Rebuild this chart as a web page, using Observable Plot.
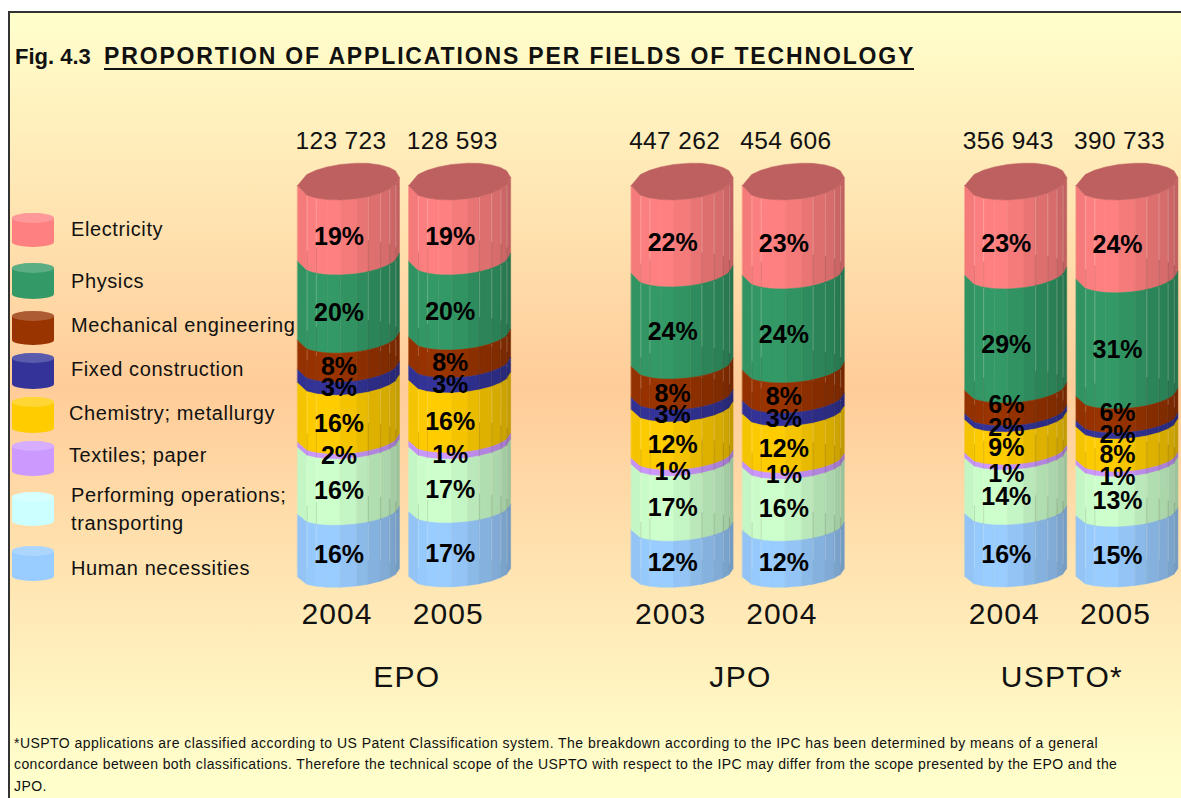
<!DOCTYPE html>
<html><head><meta charset="utf-8">
<script src="https://cdn.jsdelivr.net/npm/d3@7"></script>
<script src="https://cdn.jsdelivr.net/npm/@observablehq/plot@0.6"></script>
<style>
html,body{margin:0;padding:0;background:#fff;overflow:hidden}
#stage{position:relative;width:1181px;height:798px;overflow:hidden;font-family:"Liberation Sans",Arial,sans-serif;color:#111}
#frame{position:absolute;left:8px;top:11px;width:1190px;height:800px;border:2px solid #333;box-sizing:border-box;
 background:linear-gradient(to bottom,#ffffcc 0%,#ffcc99 47%,#ffffcc 96%)}
#stage svg{position:absolute;left:0;top:0;background:transparent}
.t{position:absolute;white-space:nowrap}
.lg{font-size:20px;letter-spacing:.6px;transform:translateY(-50%)}
.sw{position:absolute;left:12px;width:42px;border-radius:21px/5px}
.sw i{position:absolute;left:0;top:0;right:0;height:10px;border-radius:50%;background:rgba(255,255,255,.2)}
.total{letter-spacing:.35px}
.year{letter-spacing:1.1px}
.group{letter-spacing:1.3px}
</style></head><body><div id="stage"><div id="frame"></div></div>
<script>
// Data
const offices = ["EPO","JPO","USPTO*"];
const years = ["2004","2005","2003","2004","2004","2005"];
const totals = ["123 723","128 593","447 262","454 606","356 943","390 733"];
const slots = [0,1,3,4,6,7];
const groupSlots = [0.52,3.52,6.41];
const fields = ["Electricity","Physics","Mechanical engineering","Fixed construction","Chemistry; metallurgy","Textiles; paper","Performing operations; transporting","Human necessities"];
const colors = ["#FF8080","#339966","#993300","#333399","#FFCC00","#CC99FF","#CCFFCC","#99CCFF"];
const legendColors = ["#FF8080","#339966","#993300","#333399","#FFCC00","#CC99FF","#CCFFFF","#99CCFF"];
// drawn band shares, per cylinder
const electricity = [19.4,19.4,22.5,23.0,23.0,24.0];
const physics     = [20.2,19.4,23.8,24.3,29.5,30.0];
const mechanical  = [7.5,7.2,8.0,7.8,5.9,6.2];
const fixedC      = [3.4,3.9,3.1,3.4,1.6,1.6];
const chemistry   = [15.2,15.5,12.4,12.1,8.5,8.5];
const textiles    = [1.3,1.6,1.6,1.6,1.3,1.3];
const performing  = [17.1,16.5,16.8,16.0,14.2,12.9];
const human       = [16.0,16.5,11.9,11.9,16.0,15.5];
const shares = [electricity,physics,mechanical,fixedC,chemistry,textiles,performing,human];
// printed percentage labels
const electricityPct = [19,19,22,23,23,24];
const physicsPct     = [20,20,24,24,29,31];
const mechanicalPct  = [8,8,8,8,6,6];
const fixedPct       = [3,3,3,3,2,2];
const chemistryPct   = [16,16,12,12,9,8];
const textilesPct    = [2,1,1,1,1,1];
const performingPct  = [16,17,17,16,14,13];
const humanPct       = [16,17,12,12,16,15];
const pct = [electricityPct,physicsPct,mechanicalPct,fixedPct,chemistryPct,textilesPct,performingPct,humanPct];
// label shift in percent units for the thin USPTO bands (field index -> per-cylinder)
const labelShift = {2:[0,0,0,0,2.3,1.8],5:[0,0,0,0,-2,-.8]};
// Cylinder look
const facetEdges = [0,.09,.18,.29,.42,.58,.69,.81,.90,.96,1];
const facetShade = [.96,.99,1,1,.96,.91,.87,.84,.80,.76];
const linedEdges = [1,2,6,7,8,9];
const halfWidth = 0.458;                // in slot units
const tilt = 1.05;                      // in percent units
const depth = lv => 3.6 + 1.05*lv/100;  // in percent units
const shade = (c,k)=>{const r=d3.rgb(c);return d3.rgb(r.r*k,r.g*k,r.b*k).formatHex();};
const rim = (lv,f,back)=>{ // y value of the rim at level lv, x-fraction f
  const c=2*f-1, s=Math.sqrt(Math.max(0,1-c*c)), d=depth(lv), pk=Math.hypot(d,tilt);
  return lv + pk - ((back?-1:1)*d*s - tilt*c);
};
const facets=[], lightLines=[], darkLines=[], labels=[], caps=[];
slots.forEach((slot,ci)=>{
  let top=100; const rx=f=>slot-halfWidth+2*halfWidth*f;
  shares.forEach((sh,si)=>{
    const bot=top-sh[ci];
    for(let k=0;k<facetShade.length;k++){
      const z=`${ci}-${si}-${k}`, fill=shade(colors[si],facetShade[k]);
      for(const f of [facetEdges[k],facetEdges[k+1]])
        facets.push({x:rx(f),y1:rim(top,f),y2:rim(bot,f),z,fill});
    }
    for(const e of linedEdges){
      const f=facetEdges[e], a=rim(top,f), b=rim(bot,f,true), c=rim(bot,f);
      if(b<a) lightLines.push({x:rx(f),y1:a,y2:b});
      if(si<7) darkLines.push({x:rx(f),y1:Math.min(a,b),y2:c});
    }
    labels.push({x:slot,y:(top+bot)/2+((labelShift[si]||[])[ci]||0),text:pct[si][ci]+"%"});
    top=bot;
  });
  for(const f of facetEdges) caps.push({x:rx(f),y1:rim(100,f),y2:rim(100,f,true),z:ci});
});
const plot = Plot.plot({
  width:1181,height:798,margin:0,
  x:{domain:[0,7],range:[348.5,1127],axis:null},
  y:{domain:[100,0],range:[200,587],axis:null},
  color:{type:"identity"},
  style:{background:"transparent",fontFamily:"'Liberation Sans',Arial,sans-serif",overflow:"visible"},
  marks:[
    Plot.area(facets,{x1:"x",y1:"y1",y2:"y2",z:"z",fill:"fill",stroke:"fill",strokeWidth:.5}),
    Plot.link(lightLines,{x1:"x",x2:"x",y1:"y1",y2:"y2",stroke:"#fff",strokeOpacity:.2,strokeWidth:1}),
    Plot.link(darkLines,{x1:"x",x2:"x",y1:"y1",y2:"y2",stroke:"#444",strokeOpacity:.15,strokeWidth:1}),
    Plot.area(caps,{x1:"x",y1:"y1",y2:"y2",z:"z",fill:shade(colors[0],.75),stroke:shade(colors[0],.75),strokeWidth:.5}),
    Plot.text(labels,{x:"x",y:"y",text:"text",dx:-10,dy:-1.5,fontSize:25,fontWeight:"bold",fill:"#000"}),
    Plot.text(slots,{x:d=>d,text:(d,i)=>totals[i],frameAnchor:"top",lineAnchor:"middle",dy:141,dx:-8,fontSize:24.5,fill:"#111",className:"total"}),
    Plot.text(slots,{x:d=>d,text:(d,i)=>years[i],frameAnchor:"top",lineAnchor:"middle",dy:614,dx:-12,fontSize:30,fill:"#111",className:"year"}),
    Plot.text(groupSlots,{x:d=>d,text:(d,i)=>offices[i],frameAnchor:"top",lineAnchor:"middle",dy:677,fontSize:30,fill:"#111",className:"group"})
  ]
});
const stage=document.getElementById("stage");
stage.appendChild(plot);
function addText(txt,css,cls){const d=document.createElement("div");d.className="t "+(cls||"");d.textContent=txt;Object.assign(d.style,css);stage.appendChild(d);}
// Title
addText("Fig. 4.3",{left:"15px",top:"44px",fontSize:"22px",fontWeight:"bold"});
addText("PROPORTION OF APPLICATIONS PER FIELDS OF TECHNOLOGY",{left:"104px",top:"44px",fontSize:"23px",lineHeight:"24px",fontWeight:"bold",letterSpacing:"1.85px",borderBottom:"2px solid #111",width:"810px"});
// Legend
const swatchTop=[213,263,311,353,397,441,492,546], swatchBottom=[247,299,345,389,433,476,526,581];
const legendRows=[["Electricity",71,229],["Physics",71,281],["Mechanical engineering",71,325],["Fixed construction",71,369],["Chemistry; metallurgy",69,413],["Textiles; paper",69,455],["Performing operations;",71,495],["transporting",71,523],["Human necessities",71,568]];
fields.forEach((f,i)=>{const s=document.createElement("div");s.className="sw";
  Object.assign(s.style,{top:swatchTop[i]+"px",height:(swatchBottom[i]-swatchTop[i])+"px",background:legendColors[i]});
  s.appendChild(document.createElement("i"));stage.appendChild(s);});
legendRows.forEach(r=>addText(r[0],{left:r[1]+"px",top:r[2]+"px"},"lg"));
// Footnote
const notes=["*USPTO applications are classified according to US Patent Classification system. The breakdown according to the IPC has been determined by means of a general",
"concordance between both classifications. Therefore the technical scope of the USPTO with respect to the IPC may differ from the scope presented by the EPO and the","JPO."];
const noteSpacing=[".46px",".39px",".45px"];
notes.forEach((n,i)=>addText(n,{left:"14px",top:(735+i*21.3)+"px",fontSize:"14px",letterSpacing:noteSpacing[i]}));
</script></body></html>
